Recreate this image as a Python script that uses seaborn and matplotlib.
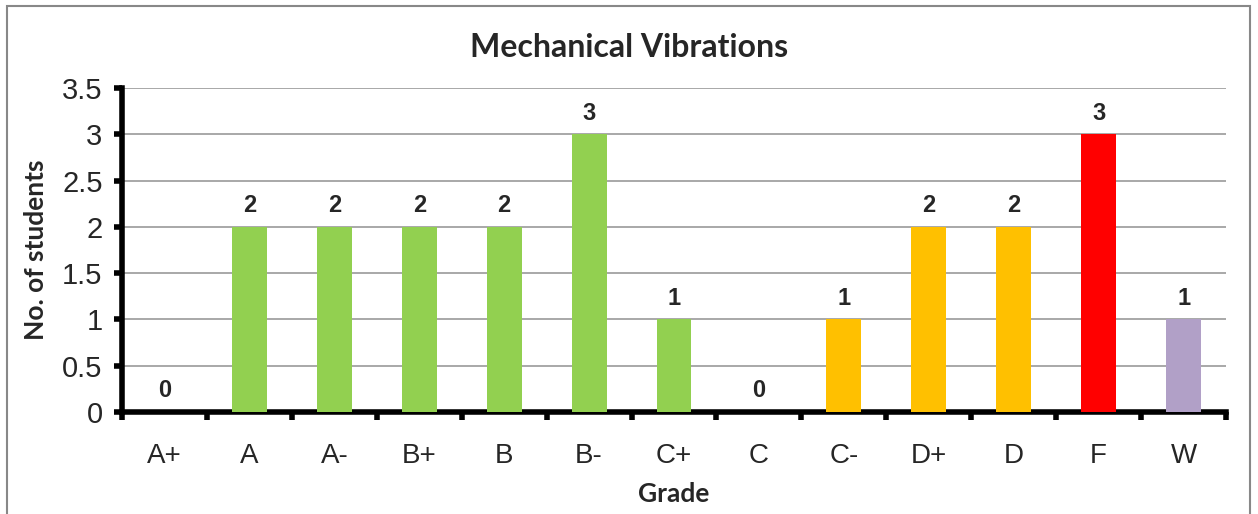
import matplotlib
matplotlib.use("Agg")
import matplotlib.pyplot as plt
import seaborn as sns
import pandas as pd
from matplotlib.patches import Rectangle

grades = ["A+", "A", "A-", "B+", "B", "B-", "C+", "C", "C-", "D+", "D", "F", "W"]
students = [0, 2, 2, 2, 2, 3, 1, 0, 1, 2, 2, 3, 1]
colors = ["#92D050"] * 8 + ["#FFC000"] * 3 + ["#FF0000", "#B1A0C7"]
yticks = [0, 0.5, 1, 1.5, 2, 2.5, 3, 3.5]

sns.set_style("white")
plt.rcParams["font.family"] = ["Liberation Sans", "DejaVu Sans"]

df = pd.DataFrame({"grade": grades, "students": students})

fig = plt.figure(figsize=(12.58, 5.14), dpi=100)
ax = fig.add_axes([0.097, 0.1984, 0.8776, 0.6304])

sns.barplot(data=df, x="grade", y="students", hue="grade", palette=colors,
            width=0.41, legend=False, saturation=1, linewidth=0, ax=ax, zorder=3)

for c in ax.containers:
    ax.bar_label(c, fmt="%g", padding=7, fontsize=17, fontweight="bold")

ax.set_xlim(-0.5, len(grades) - 0.5)
ax.set_ylim(0, 3.5)
ax.set_yticks(yticks)
ax.set_yticklabels([f"{v:g}" for v in yticks])
ax.yaxis.grid(True, color="#999999", linewidth=1.2, zorder=0)
ax.set_axisbelow(True)

for side in ["top", "right"]:
    ax.spines[side].set_visible(False)
for side in ["left", "bottom"]:
    ax.spines[side].set_linewidth(4)
    ax.spines[side].set_color("black")

ax.tick_params(axis="y", direction="out", length=6, width=4, color="black",
               labelsize=21, pad=8, left=True)
ax.tick_params(axis="x", which="major", length=0, labelsize=20, pad=22)
ax.set_xticks([i - 0.5 for i in range(len(grades) + 1)], minor=True)
ax.tick_params(axis="x", which="minor", direction="out", length=6, width=4,
               color="black", bottom=True)

ax.set_xlabel("Grade", fontsize=19, fontweight="bold", family="Lato", labelpad=10)
ax.set_ylabel("No. of students", fontsize=19, fontweight="bold", family="Lato", labelpad=10)
fig.text(0.5, 0.907, "Mechanical Vibrations", ha="center", va="center",
         fontsize=23, fontweight="bold", family="Lato")

fig.patches.append(Rectangle((0.0056, -0.01), 0.988, 0.998, transform=fig.transFigure,
                             fill=False, edgecolor="#888888", linewidth=1.5))

fig.savefig("out.png", dpi=100)
